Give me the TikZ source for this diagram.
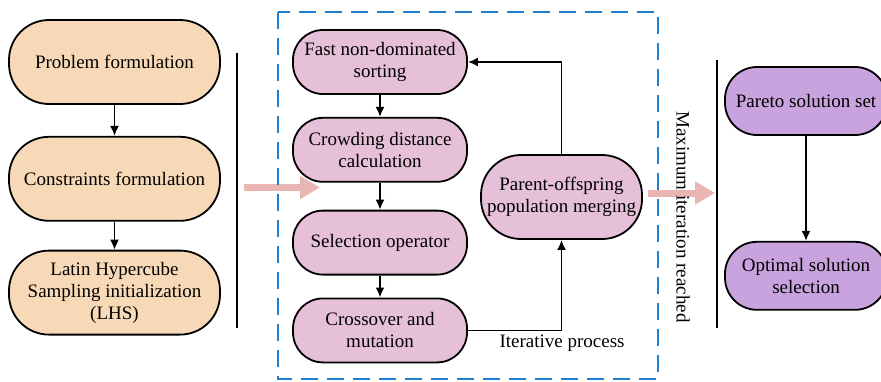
\documentclass[tikz,border=0pt]{standalone}
\usepackage{fontspec}
\setmainfont{Liberation Serif}
\usetikzlibrary{arrows.meta,positioning}

\definecolor{prepfill}{HTML}{F8D9B7}
\definecolor{loopfill}{HTML}{E6C0D9}
\definecolor{outfill}{HTML}{C9A3DD}
\definecolor{arrowpink}{HTML}{E8B5B3}
\definecolor{dashblue}{HTML}{1F7ED0}

\begin{document}
\begin{tikzpicture}[
  x=0.5pt,y=-0.5pt,
  font=\fontsize{9.5}{11}\selectfont,
  >={Latex[length=5pt,width=4.5pt]},
  box/.style={draw,line width=0.9pt,inner sep=1pt,align=center},
  prep/.style={box,fill=prepfill,rounded corners=20pt,minimum width=105.5pt,minimum height=42pt},
  loopbox/.style={box,fill=loopfill,rounded corners=15pt,minimum width=87pt,minimum height=32pt},
  mergebox/.style={box,fill=loopfill,rounded corners=20pt,minimum width=80.5pt,minimum height=42pt},
  outbox/.style={box,fill=outfill,rounded corners=16pt,minimum width=81pt,minimum height=34pt},
  flow/.style={->,line width=0.9pt},
  bigarrow/.style={draw=arrowpink,line width=3.5pt,-{Triangle[length=10pt,width=11pt]}},
  sep/.style={line width=0.6pt},
  dashbox/.style={draw=dashblue,line width=1pt,dash pattern=on 8.5pt off 4.5pt}
]
\useasboundingbox (0,0) rectangle (881,381);
\clip (0,0) rectangle (881,381);

% left: problem setup
\node[prep] (prob) at (114.5,62) {Problem formulation};
\node[prep,below=15.5pt of prob] (cons) {Constraints formulation};
\node[prep,below=14pt of cons] (lhs) {Latin Hypercube\\Sampling initialization\\(LHS)};
\draw[flow] (prob.south) -- (cons.north);
\draw[flow] (cons.south) -- (lhs.north);
\draw[sep] (237,53) -- (237,328);

% middle: iterative loop
\coordinate (inL) at (244,187.5);
\coordinate (inR) at (320,187.5);
\draw[bigarrow] (inL) -- (inR);
\draw[dashbox] (278,12) rectangle (658,379);

\node[loopbox] (sort) at (380,62) {Fast non-dominated\\sorting};
\node[loopbox,below=11pt of sort] (crowd) {Crowding distance\\calculation};
\node[loopbox,below=13.5pt of crowd] (select) {Selection operator};
\node[loopbox,below=11pt of select] (cross) {Crossover and\\mutation};
\node[mergebox] (merge) at (561.5,197) {Parent-offspring\\population merging};
\node (iter) at (562,343) {Iterative process};

\draw[flow] (sort.south) -- (crowd.north);
\draw[flow] (crowd.south) -- (select.north);
\draw[flow] (select.south) -- (cross.north);
\draw[flow] (cross.east) -| (merge.south);
\draw[flow] (merge.north) |- (sort.east);

% right: output
\coordinate (outL) at (648,193);
\coordinate (outR) at (715,193);
\draw[bigarrow] (outL) -- (outR);
\node[rotate=-90] (maxit) at (683,217) {Maximum iteration reached};
\draw[sep] (717,60) -- (717,328);

\node[outbox] (pareto) at (806,101) {Pareto solution set};
\node[outbox,below=52.5pt of pareto] (optim) {Optimal solution\\selection};
\draw[flow] (pareto.south) -- (optim.north);
\end{tikzpicture}
\end{document}
